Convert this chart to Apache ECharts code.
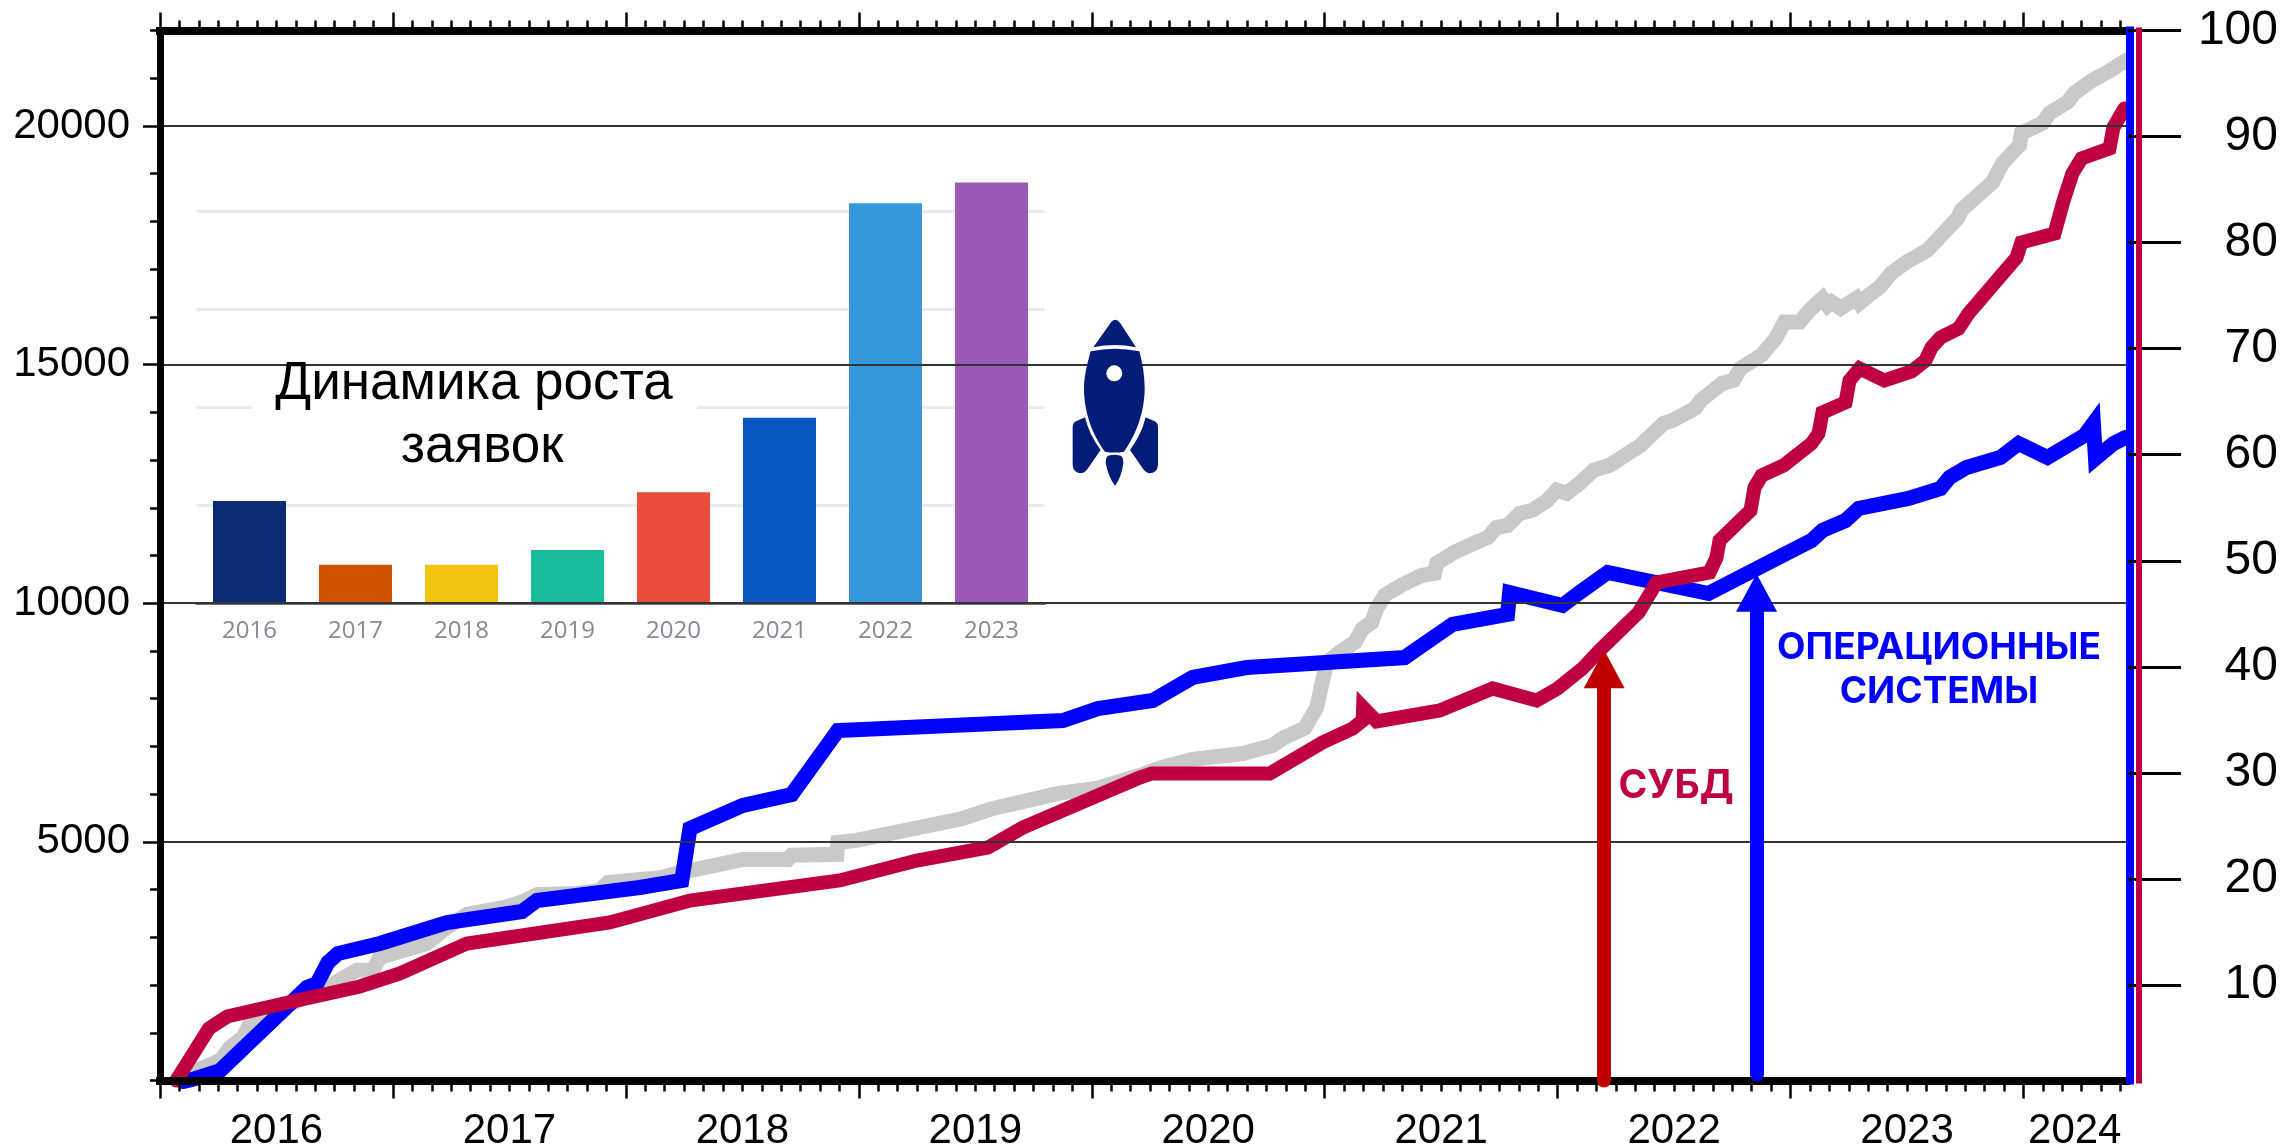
<!DOCTYPE html>
<html><head><meta charset="utf-8">
<style>html,body{margin:0;padding:0;background:#fff}#c{width:2282px;height:1146px}</style>
<script src="https://cdn.jsdelivr.net/npm/echarts@6/dist/echarts.min.js"></script>
</head><body><div id="c"></div>
<script>
// --- Data ---
const grayYears=[2016.107,2016.129,2016.258,2016.3,2016.356,2016.386,2016.485,2016.717,2016.845,2016.914,2016.944,2017.146,2017.232,2017.318,2017.481,2017.558,2017.622,2017.79,2017.888,2017.923,2018.146,2018.219,2018.502,2018.695,2018.712,2018.906,2018.91,2018.991,2019.446,2019.575,2019.863,2020.021,2020.206,2020.3,2020.433,2020.648,2020.777,2020.82,2020.914,2020.966,2020.991,2021.009,2021.064,2021.129,2021.163,2021.202,2021.223,2021.258,2021.33,2021.416,2021.472,2021.481,2021.558,2021.652,2021.7,2021.738,2021.785,2021.837,2021.893,2021.953,2021.996,2022.039,2022.094,2022.155,2022.223,2022.356,2022.455,2022.494,2022.592,2022.614,2022.708,2022.755,2022.785,2022.876,2022.936,2022.974,2023.039,2023.082,2023.137,2023.159,2023.176,2023.215,2023.283,2023.296,2023.335,2023.382,2023.433,2023.498,2023.588,2023.717,2023.734,2023.867,2023.91,2023.983,2023.991,2024.082,2024.112,2024.189,2024.219,2024.296,2024.361,2024.442];
const grayValues=[0,150,420,690,900,1190,1430,1950,2310,2310,2580,2870,3210,3480,3630,3750,3900,3920,3980,4150,4250,4340,4630,4630,4720,4740,4990,5030,5490,5700,6020,6120,6390,6560,6730,6850,7020,7170,7380,7820,8380,8760,8970,9180,9470,9600,9890,10170,10380,10580,10630,10840,11070,11280,11380,11590,11630,11880,11950,12140,12370,12300,12510,12790,12890,13310,13770,13830,14090,14250,14610,14670,14920,15200,15550,15890,15890,16140,16390,16240,16310,16180,16390,16290,16450,16620,16920,17150,17400,18070,18240,18820,19220,19600,19850,20060,20270,20500,20690,20960,21130,21380];
const blueYears=[2016.1,2016.137,2016.258,2016.631,2016.674,2016.721,2016.764,2016.944,2017.232,2017.554,2017.618,2018.06,2018.24,2018.275,2018.502,2018.712,2018.91,2019.876,2020.026,2020.262,2020.433,2020.665,2021.343,2021.549,2021.785,2021.794,2022.021,2022.094,2022.215,2022.648,2023.09,2023.137,2023.236,2023.292,2023.506,2023.644,2023.682,2023.755,2023.901,2023.979,2024.103,2024.262,2024.3,2024.309,2024.386,2024.438];
const blueValues=[0.9,1.09,1.94,9.77,10.15,12.13,12.97,13.92,15.9,16.93,17.97,19.2,19.86,24.76,26.93,27.97,34,34.94,36.07,36.83,39,39.94,40.88,44,44.94,47.01,45.79,47.01,48.9,46.92,51.92,52.86,53.8,54.93,55.88,56.82,57.86,58.8,59.74,61.06,59.74,61.82,62.95,59.65,61.06,61.63];
const crimsonYears=[2016.07,2016.21,2016.288,2016.588,2016.858,2017.03,2017.318,2017.931,2018.275,2018.918,2019.249,2019.554,2019.704,2020.206,2020.258,2020.764,2020.991,2021.12,2021.163,2021.165,2021.223,2021.494,2021.721,2021.91,2022,2022.107,2022.18,2022.348,2022.425,2022.652,2022.682,2022.695,2022.828,2022.845,2022.876,2022.97,2023.09,2023.12,2023.137,2023.236,2023.253,2023.296,2023.403,2023.519,2023.579,2023.605,2023.644,2023.721,2023.764,2023.97,2023.991,2024.133,2024.172,2024.21,2024.249,2024.369,2024.386,2024.433];
const crimsonValues=[1,5.9,7.03,8.54,9.86,11.09,13.92,15.9,17.97,19.86,21.74,22.97,24.85,29.57,29.95,29.95,32.87,34.19,34.94,36.17,34.85,35.89,37.96,36.83,37.96,39.85,41.54,45.13,47.96,48.9,50.31,51.92,54.74,56.91,58.04,58.99,61.06,62,63.98,64.93,67,68.13,67,67.85,68.89,70.11,71.05,71.9,73.32,78.6,80.01,80.86,83.97,86.52,87.93,88.88,90.86,92.65];
const insetYears=['2016','2017','2018','2019','2020','2021','2022','2023'];
const insetValues=[104,39,39,54,113,189,408,429];
const insetColors=['#0c2b75','#d35400','#f1c40f','#1abc9c','#e74c3c','#0858bf','#3498db','#9b59b6'];
const yearTicks=[2016,2017,2018,2019,2020,2021,2022,2023,2024];
const yearLabelPositions=[2016.5,2017.5,2018.5,2019.5,2020.5,2021.5,2022.5,2023.5,2024.22];
const leftMajorTicks=[5000,10000,15000,20000];
const rightTicks=[10,20,30,40,50,60,70,80,90,100];
const subdArrowYear=2022.2, subdArrowTip=8615;
const osArrowYear=2022.854, osArrowTip=10218, osArrowBase=125;

const BLUE='#0000ff', CRIMSON='#bf0040', GRAY='#c9c9c9', FONT='"Liberation Sans",Arial,sans-serif';
const monthTicks=[];
for(let y=2016;y<2024.44;y++){for(let m=1;m<12;m++){const v=y+m/12;if(v<2024.44)monthTicks.push(v);}}
const zip=(a,b)=>a.map((v,i)=>[v,b[i]]);

const xMin=2016,xMax=2024.44;
const xBase={type:'value',gridIndex:0,min:xMin,max:xMax,splitLine:{show:false},z:3};
const xAxes=[
 {...xBase,position:'bottom',axisLine:{show:true,onZero:false,lineStyle:{color:'#000',width:8,cap:'square'}},
  axisTick:{show:true,length:18,customValues:yearTicks,lineStyle:{color:'#000',width:2.5}},
  axisLabel:{show:true,customValues:yearLabelPositions,formatter:v=>String(Math.floor(v)),color:'#000',fontSize:42,fontFamily:FONT,margin:30}},
 {...xBase,position:'bottom',axisLine:{show:false,onZero:false},axisTick:{show:true,length:11,customValues:monthTicks,lineStyle:{color:'#000',width:2.5}},axisLabel:{show:false}},
 {...xBase,position:'top',axisLine:{show:true,onZero:false,lineStyle:{color:'#000',width:8,cap:'square'}},axisTick:{show:true,length:18,customValues:yearTicks,lineStyle:{color:'#000',width:2.5}},axisLabel:{show:false}},
 {...xBase,position:'top',axisLine:{show:false,onZero:false},axisTick:{show:true,length:10,customValues:monthTicks,lineStyle:{color:'#000',width:2.5}},axisLabel:{show:false}},
 {type:'category',gridIndex:1,data:insetYears,position:'bottom',z:1,
  axisLine:{lineStyle:{color:'#6e7079',width:3}},axisTick:{length:10,lineStyle:{color:'#6e7079',width:2}},
  axisLabel:{color:'#878a93',fontSize:24,fontFamily:'"Open Sans",sans-serif',margin:16},splitLine:{show:false}}
];
const yAxes=[
 {type:'value',gridIndex:0,position:'left',min:0,max:22000,z:3,
  axisLine:{show:true,onZero:false,lineStyle:{color:'#000',width:7,cap:'square'}},
  axisTick:{show:true,length:17,customValues:leftMajorTicks,lineStyle:{color:'#000',width:2.5}},
  axisLabel:{show:true,customValues:leftMajorTicks,formatter:v=>String(v),color:'#000',fontSize:42,fontFamily:FONT,margin:30,padding:[3,0,0,0]},
  splitLine:{show:true,lineStyle:{color:'#333',width:2}}},
 {type:'value',gridIndex:0,position:'left',min:0,max:22000,interval:1000,z:3,axisLine:{show:false,onZero:false},
  axisTick:{show:true,length:10,lineStyle:{color:'#000',width:2.5}},axisLabel:{show:false},splitLine:{show:false}},
 {type:'value',gridIndex:0,position:'right',offset:2,min:1,max:100,z:7,axisLine:{show:false,onZero:false},
  axisTick:{show:true,length:53,customValues:rightTicks,lineStyle:{color:'#000',width:3}},
  axisLabel:{show:true,customValues:rightTicks,color:'#000',fontSize:48,fontFamily:FONT,align:'right',margin:150,padding:[3,0,0,0]},splitLine:{show:false}},
 {type:'value',gridIndex:0,position:'right',offset:4,min:1,max:100,z:6,axisLine:{show:true,onZero:false,lineStyle:{color:BLUE,width:8,cap:'square'}},axisTick:{show:false},axisLabel:{show:false},splitLine:{show:false}},
 {type:'value',gridIndex:0,position:'right',offset:13,min:1,max:100,z:8,axisLine:{show:true,onZero:false,lineStyle:{color:CRIMSON,width:6,cap:'square'}},axisTick:{show:false},axisLabel:{show:false},splitLine:{show:false}},
 {type:'value',gridIndex:1,min:0,max:500,interval:100,axisLine:{show:false},axisTick:{show:false},axisLabel:{show:false},z:0.5,
  splitLine:{show:true,showMinLine:false,showMaxLine:false,lineStyle:{color:'#e8ebf5',width:3}}}
];
const curve=(name,d,color,yIdx,z,w)=>({name,type:'line',data:d,xAxisIndex:0,yAxisIndex:yIdx,symbol:'none',clip:false,z,
 lineStyle:{color,width:w,join:'miter',miterLimit:12,cap:'round'},silent:true});
const arrow=(name,x,tip,base,color)=>({name,type:'line',data:[],xAxisIndex:0,yAxisIndex:0,symbol:'none',z:9,silent:true,
 markLine:{silent:true,animation:false,symbol:['none','triangle'],symbolSize:[41,38],label:{show:false},precision:6,
  lineStyle:{color,width:14,type:'solid',cap:'round'},itemStyle:{color},
  data:[[{coord:[x,base]},{coord:[x,tip]}]]}});

const fin='M75 322 L45 335 Q38 340 38 350 L38 465 Q40 490 65 490 Q75 488 82 478 L122 420 Q88 375 75 322 Z';
const finR='M257 322 L287 335 Q294 340 294 350 L294 465 Q292 490 267 490 Q257 488 250 478 L210 420 Q244 375 257 322 Z';
const rocket='M152 38 Q165 20 180 38 L228 112 Q165 98 100 112 Z M92 124 Q165 108 238 124 C248 160 254 200 254 235 C254 310 225 380 192 425 Q165 430 135 425 C100 380 72 310 72 235 C72 200 82 160 92 124 Z M145 437 Q163 432 182 437 Q190 440 190 460 Q185 500 165 528 Q145 500 137 460 Q137 440 145 437 Z '+fin+' '+finR;
const NAVY='#021c78';
echarts.graphic.registerShape('rocketIcon',echarts.graphic.extendPath(rocket,{}));

const option={animation:false,backgroundColor:'#fff',
 grid:[{left:160,top:30.5,width:1966,height:1050,containLabel:false,outerBoundsMode:'none'},{left:196.5,top:113,width:848,height:490,containLabel:false,outerBoundsMode:'none'}],
 xAxis:xAxes,yAxis:yAxes,
 series:[
  curve('Заявки',zip(grayYears,grayValues),GRAY,0,2,15),
  curve('Операционные системы',zip(blueYears,blueValues),BLUE,3,2.1,15),
  curve('СУБД',zip(crimsonYears,crimsonValues),CRIMSON,3,2.2,14),
  arrow('arrowSubd',subdArrowYear,subdArrowTip,0,'#c00000'),
  arrow('arrowOs',osArrowYear,osArrowTip,osArrowBase,BLUE),
  {name:'Динамика',type:'bar',xAxisIndex:4,yAxisIndex:5,barWidth:73,z:2,silent:true,
   data:insetValues.map((v,i)=>({value:v,itemStyle:{color:insetColors[i]}}))}
 ],
 graphic:[
  {type:'rect',z:1,shape:{x:252,y:352,width:445,height:125},style:{fill:'#fff'}},
  {type:'text',z:20,x:474,y:384,style:{text:'Динамика роста',font:'53px '+FONT,fill:'#000',align:'center',verticalAlign:'middle'}},
  {type:'text',z:20,x:482,y:447,style:{text:'заявок',font:'53px '+FONT,fill:'#000',align:'center',verticalAlign:'middle'}},
  {type:'text',z:20,x:1676,y:786,style:{text:'СУБД',font:'bold 39px Inter,'+FONT,fill:CRIMSON,align:'center',verticalAlign:'middle'}},
  {type:'text',z:20,x:1939,y:648,style:{text:'ОПЕРАЦИОННЫЕ',font:'bold 37px Inter,'+FONT,fill:BLUE,align:'center',verticalAlign:'middle'}},
  {type:'text',z:20,x:1939,y:692,style:{text:'СИСТЕМЫ',font:'bold 37px Inter,'+FONT,fill:BLUE,align:'center',verticalAlign:'middle'}},
  {type:'rocketIcon',z:20,x:1060,y:310,scaleX:1/3,scaleY:1/3,style:{fill:NAVY}},
  {type:'circle',z:21,shape:{cx:1114.3,cy:373.3,r:8},style:{fill:'#fff'}}
 ]
};
const chart=echarts.init(document.getElementById('c'),null,{renderer:'canvas',width:2282,height:1146});
chart.setOption(option);
</script></body></html>
